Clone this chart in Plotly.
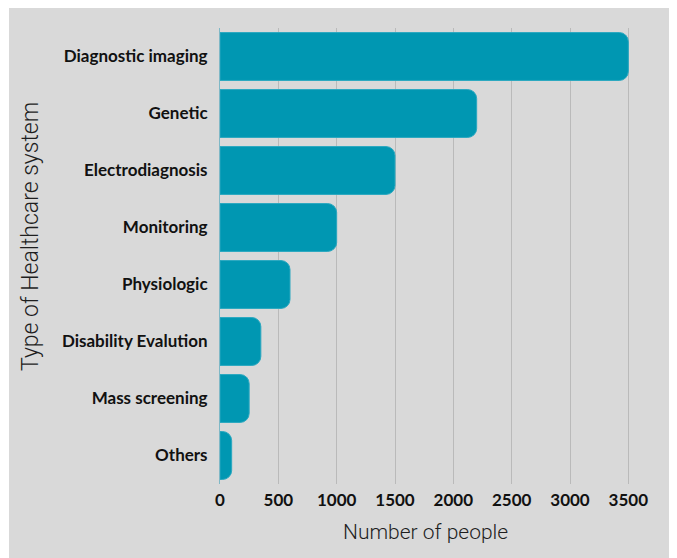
import plotly.graph_objects as go

categories = ["Diagnostic imaging", "Genetic", "Electrodiagnosis", "Monitoring",
              "Physiologic", "Disability Evalution", "Mass screening", "Others"]
values = [3500, 2200, 1500, 1000, 600, 350, 250, 100]
x_ticks = [0, 500, 1000, 1500, 2000, 2500, 3000, 3500]

OFF = 8  # page body margin
W, H = 677 - OFF, 558 - OFF
L, T = 220 - OFF, 28 - OFF
R = W - (640 - OFF)
B = H - (484 - OFF)
pw, ph = W - L - R, H - T - B

def px_to_paper_x(px):
    return (px - OFF - L) / pw

def px_to_paper_y(py):
    return (H - B - (py - OFF)) / ph

fig = go.Figure(go.Bar(
    x=values, y=categories, orientation="h",
    marker=dict(color="#0097b2", line=dict(color="#2aa8c0", width=1), cornerradius=9),
    width=0.84,
))

fig.update_layout(
    width=W, height=H,
    margin=dict(l=L, r=R, t=T, b=B, autoexpand=False),
    paper_bgcolor="white",
    plot_bgcolor="#d9d9d9",
    showlegend=False,
    shapes=[dict(type="rect", xref="paper", yref="paper", layer="below",
                 x0=px_to_paper_x(9), x1=px_to_paper_x(670),
                 y0=px_to_paper_y(558), y1=px_to_paper_y(8),
                 fillcolor="#d9d9d9", line=dict(width=0))],
    annotations=[
        dict(text="Number of people", xref="paper", yref="paper",
             x=px_to_paper_x(425), y=px_to_paper_y(532), showarrow=False,
             font=dict(family="Roboto", size=21, color="#1e1e1e", weight=300),
             xanchor="center", yanchor="middle"),
        dict(text="Type of Healthcare system", xref="paper", yref="paper",
             x=px_to_paper_x(30), y=px_to_paper_y(237), showarrow=False, textangle=-90,
             font=dict(family="Roboto", size=23, color="#1e1e1e", weight=300),
             xanchor="center", yanchor="middle"),
    ],
)

fig.update_xaxes(
    range=[0, 3600], tickvals=x_ticks, ticktext=[str(v) for v in x_ticks],
    showgrid=True, gridcolor="#bababa", gridwidth=1, zeroline=False,
    showline=False, ticks="", ticklabelstandoff=4,
    tickfont=dict(family="Lato", size=17, color="#111111", weight=700),
    fixedrange=True,
)
fig.update_yaxes(
    categoryorder="array", categoryarray=categories, autorange="reversed",
    showgrid=False, zeroline=False, showline=True, linecolor="#7fb8c6", linewidth=1,
    ticks="", ticklabelstandoff=8,
    tickfont=dict(family="Lato", size=17, color="#111111", weight=700),
    fixedrange=True,
)

fig.write_html("out.html")
